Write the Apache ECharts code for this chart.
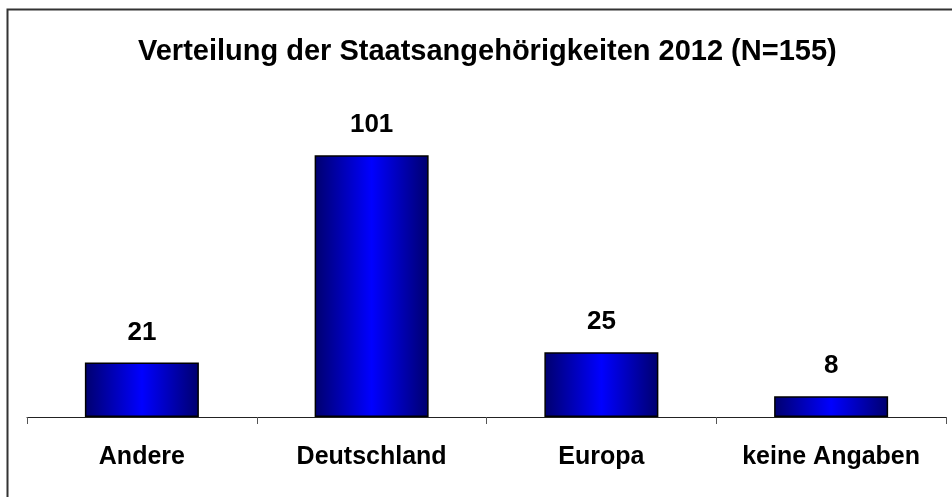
<!DOCTYPE html>
<html><head><meta charset="utf-8">
<script src="https://cdn.jsdelivr.net/npm/echarts@6/dist/echarts.min.js"></script>
<style>html,body{margin:0;padding:0;background:#fff}#c{width:952px;height:497px}</style>
</head><body><div id="c"></div>
<script>
const categories = ['Andere', 'Deutschland', 'Europa', 'keine Angaben'];
const values = [21, 101, 25, 8];
const titleText = 'Verteilung der Staatsangehörigkeiten 2012 (N=155)';

const chart = echarts.init(document.getElementById('c'));
chart.setOption({
  animation: false,
  title: {
    text: titleText, left: 133, top: 32,
    textStyle: {fontFamily: 'Liberation Sans, Arial', fontWeight: 'bold', fontSize: 29, color: '#000'}
  },
  graphic: [{type: 'rect', shape: {x: 7.5, y: 9.5, width: 1000, height: 1000}, style: {fill: 'none', stroke: '#333', lineWidth: 2}, z: 100}],
  grid: {left: 27, right: 6, top: 106, bottom: 80},
  xAxis: {
    type: 'category', data: categories,
    axisLine: {lineStyle: {color: '#222', width: 1}},
    axisTick: {show: true, interval: 0, length: 7, lineStyle: {color: '#555', width: 1}},
    axisLabel: {interval: 0, margin: 28, fontFamily: 'Liberation Sans, Arial', fontWeight: 'bold', fontSize: 25, color: '#000'}
  },
  yAxis: {type: 'value', min: 0, max: 120, show: false, splitLine: {show: false}},
  series: [{
    type: 'bar', data: values, barWidth: 114,
    itemStyle: {
      borderColor: '#000', borderWidth: 1.5,
      color: new echarts.graphic.LinearGradient(0, 0, 1, 0, [
        {offset: 0, color: '#00006e'}, {offset: 0.5, color: '#0000ff'}, {offset: 1, color: '#00006e'}
      ])
    },
    label: {show: true, position: 'top', distance: 17, fontFamily: 'Liberation Sans, Arial', fontWeight: 'bold', fontSize: 26, color: '#000'}
  }]
});
</script></body></html>
